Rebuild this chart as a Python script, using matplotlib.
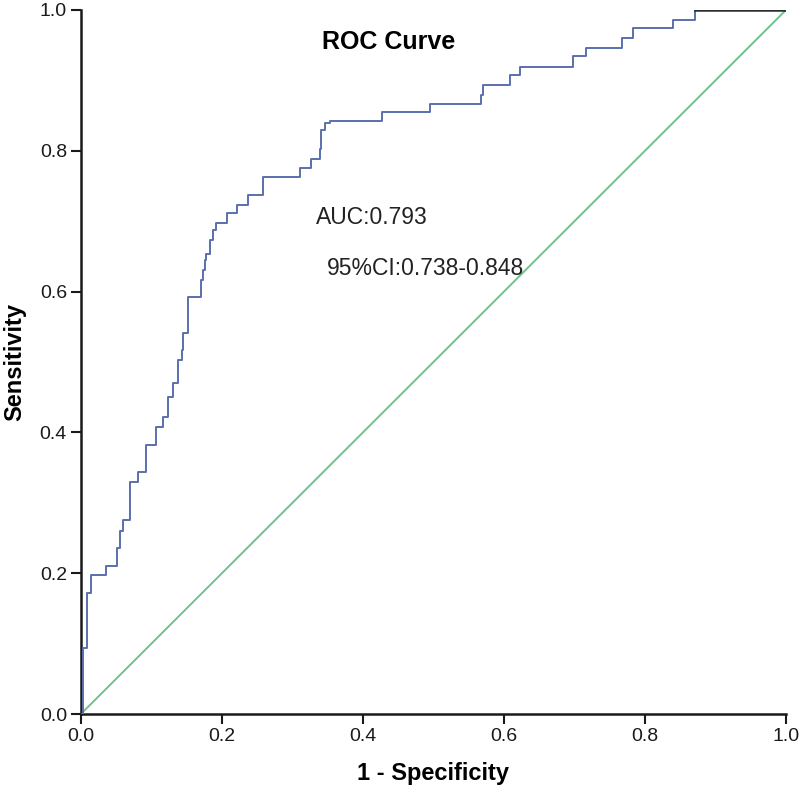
import matplotlib.pyplot as plt
import numpy as np

plt.rcParams['font.family'] = ['Liberation Sans', 'DejaVu Sans']

# ROC corner points: at each fpr the sensitivity rises to tpr
fpr = [0.0, 0.003, 0.009, 0.015, 0.036, 0.051, 0.055, 0.060, 0.070, 0.081,
       0.093, 0.107, 0.117, 0.124, 0.131, 0.138, 0.143, 0.145, 0.152, 0.171,
       0.173, 0.176, 0.178, 0.183, 0.188, 0.192, 0.207, 0.221, 0.237, 0.259,
       0.311, 0.327, 0.339, 0.341, 0.346, 0.353, 0.427, 0.495, 0.568, 0.571,
       0.609, 0.623, 0.698, 0.717, 0.767, 0.783, 0.840, 0.871, 1.0]
tpr = [0.0, 0.094, 0.172, 0.197, 0.210, 0.236, 0.260, 0.276, 0.330, 0.344,
       0.382, 0.408, 0.422, 0.451, 0.470, 0.503, 0.517, 0.541, 0.593, 0.616,
       0.631, 0.645, 0.654, 0.673, 0.687, 0.697, 0.711, 0.723, 0.737, 0.763,
       0.775, 0.789, 0.803, 0.829, 0.839, 0.842, 0.855, 0.867, 0.879, 0.893,
       0.908, 0.919, 0.934, 0.946, 0.960, 0.974, 0.986, 1.0, 1.0]
ref_line = [0.0, 1.0]
auc_text = "AUC:0.793"
ci_text = "95%CI:0.738-0.848"

fig = plt.figure(figsize=(8, 7.97), dpi=100)
ax = fig.add_axes([0.101, 0.104, 0.8815, 0.8835])

ax.plot(ref_line, ref_line, color='#72c08f', lw=1.4, zorder=2)
ax.plot(fpr, tpr, drawstyle='steps-post', color='#5b6fae', lw=1.4, zorder=3)

# the part lying on sensitivity = 1 shows up dark in the original
fpr_a = np.array(fpr)
tpr_a = np.array(tpr)
top = tpr_a >= 1.0
ax.plot(fpr_a[top], tpr_a[top], color='#2b2f33', lw=1.8, zorder=4)

ax.set_xlim(0, 1)
ax.set_ylim(0, 1)
ax.set_xticks(np.arange(0, 1.01, 0.2))
ax.set_yticks(np.arange(0, 1.01, 0.2))
ax.xaxis.set_major_formatter(plt.FormatStrFormatter('%.1f'))
ax.yaxis.set_major_formatter(plt.FormatStrFormatter('%.1f'))

for side in ['top', 'right']:
    ax.spines[side].set_visible(False)
for side in ['left', 'bottom']:
    ax.spines[side].set_linewidth(1.8)
    ax.spines[side].set_color('#1a1a1a')

ax.tick_params(direction='out', length=7, width=1.5, labelsize=14,
               colors='#1a1a1a', pad=3)

ax.set_xlabel('1 - Specificity', fontsize=17, fontweight='bold', labelpad=12)
ax.set_ylabel('Sensitivity', fontsize=17, fontweight='bold', labelpad=10)

ax.text(0.437, 0.955, 'ROC Curve', fontsize=18, fontweight='bold',
        ha='center', va='center', transform=ax.transAxes)
ax.text(0.333, 0.705, auc_text, fontsize=16.5, color='#222222',
        ha='left', va='center', transform=ax.transAxes)
ax.text(0.349, 0.633, ci_text, fontsize=16.5, color='#222222',
        ha='left', va='center', transform=ax.transAxes)

fig.savefig('out.png', dpi=100)
